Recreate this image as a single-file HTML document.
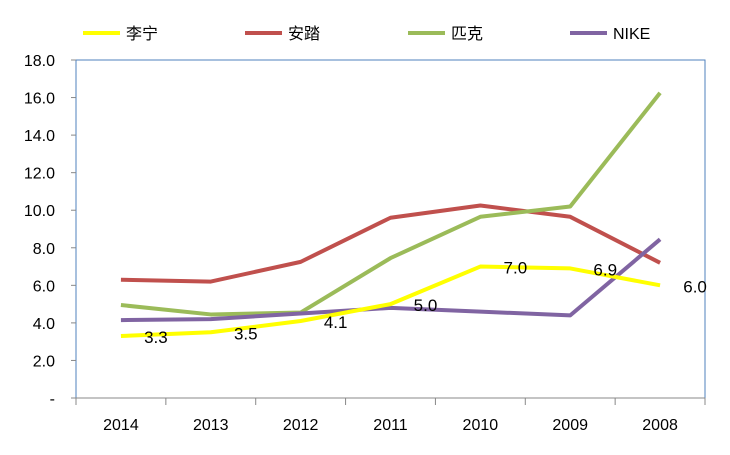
<!DOCTYPE html>
<html><head><meta charset="utf-8"><style>
body{margin:0;background:#fff}
svg text{font-family:"Liberation Sans","Noto Sans CJK SC",sans-serif;fill:#000}
</style></head><body>
<svg id="c" width="730" height="450"></svg>
<script>
const categories=["2014","2013","2012","2011","2010","2009","2008"];
const lining=[3.3,3.5,4.1,5.0,7.0,6.9,6.0];
const anta=[6.3,6.2,7.25,9.6,10.25,9.65,7.2];
const peak=[4.95,4.45,4.55,7.45,9.65,10.2,16.25];
const nike=[4.15,4.2,4.5,4.8,4.6,4.4,8.45];
const yTicks=[0,2,4,6,8,10,12,14,16,18];
const seriesNames=["李宁","安踏","匹克","NIKE"];
const colors=["#ffff00","#c0504d","#9bbb59","#8064a2"];
const NS="http://www.w3.org/2000/svg",svg=document.getElementById('c');
const L=76,R=705,T=60,B=398,cw=(R-L)/categories.length;
const x=i=>L+cw*(i+0.5), y=v=>B-(v/18)*(B-T);
function mk(t,a,p){const e=document.createElementNS(NS,t);for(const k in a)e.setAttribute(k,a[k]);(p||svg).appendChild(e);return e;}
let e=mk('rect',{x:L,y:T,width:R-L,height:B-T,fill:'none',stroke:'#4f81bd','stroke-width':1});


yTicks.forEach(v=>{
 const t=mk('text',{x:55,y:y(v)+6,'text-anchor':'end','font-size':16});t.textContent=v===0?'-':v.toFixed(1);
 
 
 mk('line',{x1:L-5,x2:L,y1:y(v),y2:y(v),stroke:'#888'});
});
mk('line',{x1:L,x2:R,y1:B,y2:B,stroke:'#888'});
for(let i=0;i<=categories.length;i++)mk('line',{x1:L+cw*i,x2:L+cw*i,y1:B,y2:B+7,stroke:'#888'});
categories.forEach((c,i)=>{const t=mk('text',{x:x(i),y:430,'text-anchor':'middle','font-size':16});t.textContent=c;
 
 });
const data=[lining,anta,peak,nike];
[1,2,3,0].forEach(s=>{
 const p=mk('polyline',{points:data[s].map((v,i)=>x(i)+','+y(v)).join(' '),fill:'none',stroke:colors[s],'stroke-width':4,'stroke-linejoin':'round'});
 
 
});
lining.forEach((v,i)=>{const t=mk('text',{x:x(i)+35,y:y(v)+7,'text-anchor':'middle','font-size':17});t.textContent=v.toFixed(1);
 
 });
const lx=[83,245,408,570];
seriesNames.forEach((n,s)=>{
 const g=mk('g',{});
 
 
 mk('line',{x1:lx[s],x2:lx[s]+37,y1:33,y2:33,stroke:colors[s],'stroke-width':4},g);
 const t=mk('text',{x:lx[s]+43,y:39,'font-size':16},g);t.textContent=n;
});
</script>
</body></html>
